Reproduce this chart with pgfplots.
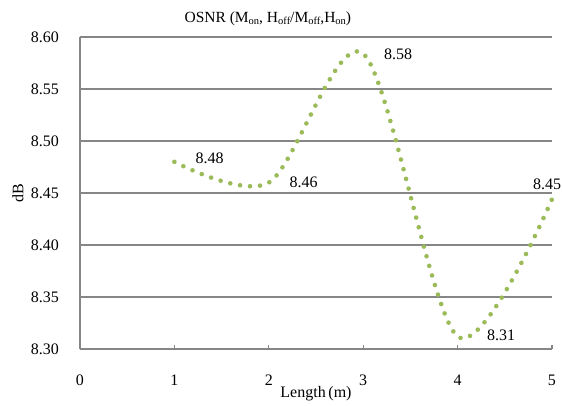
\documentclass[border=0pt]{standalone}
\usepackage{pgfplots}
\pgfplotsset{compat=1.18}
\usepackage{fontspec}
\setmainfont{Liberation Serif}
\definecolor{osnrgreen}{HTML}{9BBB59}
\definecolor{gridgray}{HTML}{868686}
\newcommand{\sub}[1]{\raisebox{-2.5pt}{\fontsize{10.5}{12}\selectfont #1}}
\begin{document}
\begin{tikzpicture}
\begin{axis}[
    scale only axis,
    width=472pt, height=312pt,
    xmin=0, xmax=5,
    ymin=8.30, ymax=8.60,
    axis x line*=bottom,
    axis y line*=left,
    axis line style={draw=gridgray, line width=1.3pt, -},
    xtick={0,1,2,3,4,5},
    ytick={8.30,8.35,8.40,8.45,8.50,8.55,8.60},
    yticklabel style={/pgf/number format/fixed, /pgf/number format/fixed zerofill,
        /pgf/number format/precision=2, anchor=east, inner sep=0pt, xshift=-21pt},
    xticklabel style={anchor=base, inner sep=0pt, yshift=-36pt},
    /pgf/number format/assume math mode=true,
    tick label style={font=\fontsize{16}{18}\selectfont},
    tick align=inside,
    major tick length=4pt,
    xtick style={draw=gridgray, line width=1.3pt},
    ytick style={draw=none},
    ymajorgrids,
    major grid style={draw=gridgray, line width=1.3pt},
    clip=false,
]
\addplot[color=osnrgreen, line width=4.6pt, line cap=round,
    dash pattern=on 0pt off 10pt, smooth, tension=0.5]
    coordinates {(1,8.480)(2,8.460)(3,8.584)(4,8.312)(5,8.444)};

\node[font=\fontsize{16}{18}\selectfont] at (axis cs:1.372,8.4837) {8.48};
\node[font=\fontsize{16}{18}\selectfont] at (axis cs:2.368,8.4606) {8.46};
\node[font=\fontsize{16}{18}\selectfont] at (axis cs:3.369,8.5837) {8.58};
\node[font=\fontsize{16}{18}\selectfont] at (axis cs:4.460,8.3130) {8.31};
\node[font=\fontsize{16}{18}\selectfont, anchor=east, inner sep=0pt] at (axis cs:5.10,8.4587) {8.45};

\node[font=\fontsize{15.5}{18}\selectfont, anchor=base, inner sep=0pt] at (rel axis cs:0.398,1.048)
    {OSNR (M\sub{on}, H\sub{off}/M\sub{off},H\sub{on})};
\node[font=\fontsize{16}{18}\selectfont, rotate=90] at (rel axis cs:-0.1314,0.5) {dB};
\node[font=\fontsize{16}{18}\selectfont, anchor=base, inner sep=0pt] at (rel axis cs:0.5,-0.154) {Length\,(m)};

\coordinate (bl) at (rel axis cs:-0.16949,-0.17949);
\coordinate (tr) at (rel axis cs:1.02119,1.11859);
\end{axis}
\pgfresetboundingbox
\useasboundingbox (bl) rectangle (tr);
\end{tikzpicture}
\end{document}
